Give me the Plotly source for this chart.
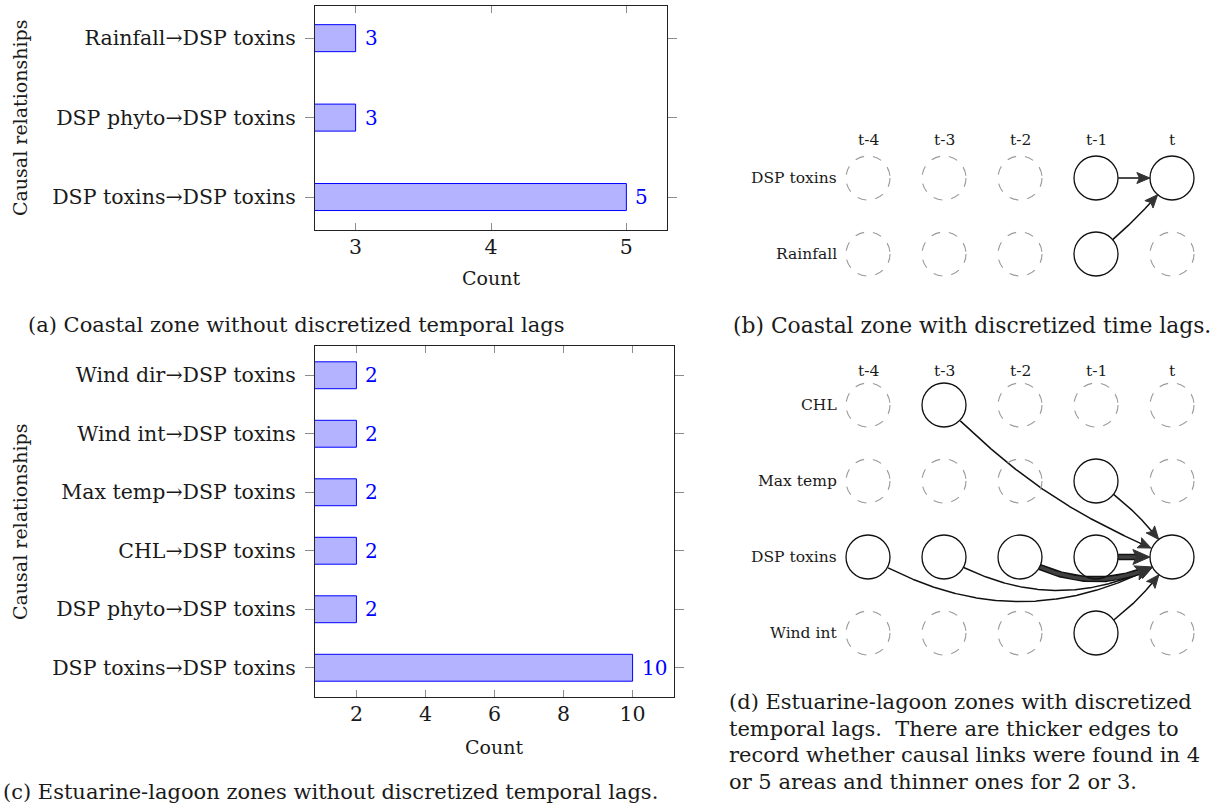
import numpy as np
import plotly.graph_objects as go

W, H = 1220, 807
FONT = "DejaVu Serif"

# ---------------- data ----------------
# (a) coastal zone, bottom -> top
a_labels = ["DSP toxins→DSP toxins", "DSP phyto→DSP toxins", "Rainfall→DSP toxins"]
a_counts = [5, 3, 3]
a_xticks = [3, 4, 5]

# (c) estuarine-lagoon zones, bottom -> top
c_labels = ["DSP toxins→DSP toxins", "DSP phyto→DSP toxins", "CHL→DSP toxins",
            "Max temp→DSP toxins", "Wind int→DSP toxins", "Wind dir→DSP toxins"]
c_counts = [10, 2, 2, 2, 2, 2]
c_xticks = [2, 4, 6, 8, 10]

lags = ["t-4", "t-3", "t-2", "t-1", "t"]

# (b) coastal zone with lags
b_vars = ["Rainfall", "DSP toxins"]          # bottom -> top
b_active = [("DSP toxins", "t-1"), ("DSP toxins", "t"), ("Rainfall", "t-1")]
# (source var, source lag, target var, target lag, strength, bend in degrees)
b_edges = [("DSP toxins", "t-1", "DSP toxins", "t", "thin", 0),
           ("Rainfall", "t-1", "DSP toxins", "t", "thin", -5)]

# (d) estuarine-lagoon zones with lags
d_vars = ["Wind int", "DSP toxins", "Max temp", "CHL"]   # bottom -> top
d_active = [("CHL", "t-3"), ("Max temp", "t-1"),
            ("DSP toxins", "t-4"), ("DSP toxins", "t-3"), ("DSP toxins", "t-2"),
            ("DSP toxins", "t-1"), ("DSP toxins", "t"), ("Wind int", "t-1")]
d_edges = [("CHL", "t-3", "DSP toxins", "t", "thin", -11),
           ("Max temp", "t-1", "DSP toxins", "t", "thin", 9),
           ("DSP toxins", "t-4", "DSP toxins", "t", "thin", -30),
           ("DSP toxins", "t-3", "DSP toxins", "t", "thin", -30),
           ("DSP toxins", "t-2", "DSP toxins", "t", "thick", -30),
           ("DSP toxins", "t-1", "DSP toxins", "t", "thick", 0),
           ("Wind int", "t-1", "DSP toxins", "t", "thin", -10)]

cap_a = "(a) Coastal zone without discretized temporal lags"
cap_b = "(b) Coastal zone with discretized time lags."
cap_c = "(c) Estuarine-lagoon zones without discretized temporal lags."
cap_d = ["(d) Estuarine-lagoon zones with discretized",
         "temporal lags.  There are thicker edges to",
         "record whether causal links were found in 4",
         "or 5 areas and thinner ones for 2 or 3."]

# ---------------- helpers ----------------
def fx(p):
    return p / W

def fy(p):
    return 1 - p / H

fig = go.Figure()

BAR_FILL = "#b3b3ff"
BLUE = "#0000ff"
TICKC = "#8c8c8c"
TXT = "#1a1a1a"

# ---------------- bar charts ----------------
fig.add_trace(go.Bar(x=a_counts, y=a_labels, orientation="h", base=0,
                     width=0.34, marker=dict(color=BAR_FILL, line=dict(color=BLUE, width=1)),
                     xaxis="x", yaxis="y", showlegend=False, hoverinfo="skip"))
fig.add_trace(go.Bar(x=c_counts, y=c_labels, orientation="h", base=0,
                     width=0.46, marker=dict(color=BAR_FILL, line=dict(color=BLUE, width=1)),
                     xaxis="x2", yaxis="y2", showlegend=False, hoverinfo="skip"))

annotations = []
for v, lab in zip(a_counts, a_labels):
    annotations.append(dict(x=v, y=lab, xref="x", yref="y", text=str(v), showarrow=False,
                            xanchor="left", xshift=7, font=dict(family=FONT, size=20, color=BLUE)))
for v, lab in zip(c_counts, c_labels):
    annotations.append(dict(x=v, y=lab, xref="x2", yref="y2", text=str(v), showarrow=False,
                            xanchor="left", xshift=7, font=dict(family=FONT, size=20, color=BLUE)))

axis_common = dict(showgrid=False, zeroline=False, showline=True, linecolor="#222",
                   linewidth=1.2, tickcolor=TICKC, tickwidth=1.2,
                   tickfont=dict(family=FONT, size=20.5, color=TXT))

layout = dict(
    width=W, height=H, margin=dict(l=0, r=0, t=0, b=0),
    paper_bgcolor="white", plot_bgcolor="rgba(0,0,0,0)",
    xaxis=dict(domain=[fx(315), fx(667)], range=[2.7, 5.3], anchor="y",
               tickvals=a_xticks, ticks="inside", ticklen=7, mirror="ticks",
               ticklabelstandoff=-2, **axis_common),
    yaxis=dict(domain=[fy(230), fy(6)], range=[-0.415, 2.405], anchor="x", type="category",
               ticks="outside", ticklen=9, mirror="ticks", ticklabelstandoff=5, **axis_common),
    xaxis2=dict(domain=[fx(315), fx(674)], range=[0.8, 11.2], anchor="y2",
                tickvals=c_xticks, ticks="inside", ticklen=7, mirror="ticks",
                ticklabelstandoff=-2, **axis_common),
    yaxis2=dict(domain=[fy(697), fy(346)], range=[-0.5, 5.5], anchor="x2", type="category",
                ticks="outside", ticklen=9, mirror="ticks", ticklabelstandoff=5, **axis_common),
    xaxis3=dict(domain=[fx(830), fx(1210)], range=[-0.5, 4.5], anchor="y3", visible=False),
    yaxis3=dict(domain=[fy(292), fy(140)], range=[-0.5, 1.5], anchor="x3", visible=False),
    xaxis4=dict(domain=[fx(830), fx(1210)], range=[-0.5, 4.5], anchor="y4", visible=False),
    yaxis4=dict(domain=[fy(671), fy(367)], range=[-0.5, 3.5], anchor="x4", visible=False),
)

# axis titles
for (x, y, txt, ang) in [(491, 278, "Count", 0), (494, 747, "Count", 0),
                         (20, 118, "Causal relationships", -90), (20, 522, "Causal relationships", -90)]:
    annotations.append(dict(x=fx(x), y=fy(y), xref="paper", yref="paper", text=txt, textangle=ang,
                            showarrow=False, xanchor="center", yanchor="middle",
                            font=dict(family=FONT, size=19, color=TXT)))

# captions
CAPF = dict(family=FONT, size=21, color=TXT)
annotations.append(dict(x=fx(296), y=fy(325), xref="paper", yref="paper", text=cap_a, showarrow=False,
                        xanchor="center", yanchor="middle", font=CAPF))
annotations.append(dict(x=fx(330), y=fy(792), xref="paper", yref="paper", text=cap_c, showarrow=False,
                        xanchor="center", yanchor="middle", font=CAPF))
annotations.append(dict(x=fx(972), y=fy(325), xref="paper", yref="paper", text=cap_b, showarrow=False,
                        xanchor="center", yanchor="middle", font=dict(family=FONT, size=21.8, color=TXT)))
for i, line in enumerate(cap_d):
    annotations.append(dict(x=fx(727), y=fy(702 + 26.7 * i), xref="paper", yref="paper", text=line,
                            showarrow=False, xanchor="left", yanchor="middle", font=CAPF))

# ---------------- diagrams ----------------
R = 22 / 76.0
shapes = []

def bezier(p0, p1, p2, p3, n=400):
    t = np.linspace(0, 1, n)[:, None]
    return ((1 - t) ** 3) * p0 + 3 * ((1 - t) ** 2) * t * p1 + 3 * (1 - t) * t ** 2 * p2 + t ** 3 * p3

def draw_diagram(vars_, active, edges, xr, yr, header_dy):
    # nodes
    for vi, var in enumerate(vars_):
        for li, lag in enumerate(lags):
            on = (var, lag) in active
            shapes.append(dict(type="circle", xref=xr, yref=yr,
                               x0=li - R, x1=li + R, y0=vi - R, y1=vi + R,
                               line=dict(color="#111" if on else "#9a9a9a", width=1.3 if on else 1.1,
                                         dash="solid" if on else "dash"),
                               layer="above"))
        annotations.append(dict(x=-0.38, y=vi, xref=xr, yref=yr, text=var, showarrow=False,
                                xanchor="right", yanchor="middle",
                                font=dict(family=FONT, size=15.5, color=TXT)))
    top = len(vars_) - 1
    for li, lag in enumerate(lags):
        annotations.append(dict(x=li, y=top + header_dy, xref=xr, yref=yr, text=lag, showarrow=False,
                                xanchor="center", yanchor="middle",
                                font=dict(family=FONT, size=15.5, color=TXT)))
    # edges
    for sv, sl, tv, tl, strength, bend in edges:
        s = np.array([lags.index(sl), vars_.index(sv)], float)
        e = np.array([lags.index(tl), vars_.index(tv)], float)
        d = e - s
        L = np.hypot(*d)
        phi = np.arctan2(d[1], d[0])
        b = np.radians(bend)
        c1 = s + 0.3915 * L * np.array([np.cos(phi + b), np.sin(phi + b)])
        c2 = e - 0.3915 * L * np.array([np.cos(phi - b), np.sin(phi - b)])
        pts = bezier(s, c1, c2, e)
        idx = np.arange(len(pts))
        ds = np.hypot(*(pts - s).T)
        de = np.hypot(*(pts - e).T)
        i0 = np.argmax(ds >= R)
        i1 = np.where(de >= R)[0][-1]
        tip = pts[i1]
        thick = strength == "thick"
        La = (17 if thick else 13) / 76.0
        Wa = (15 if thick else 11) / 76.0
        dt = np.hypot(*(pts - tip).T)
        ib = np.where((dt >= La) & (idx <= i1))[0][-1]
        u = tip - pts[ib]
        u = u / np.hypot(*u)
        n = np.array([-u[1], u[0]])
        line_end = tip - 0.75 * La * u
        il = np.where((dt >= 0.75 * La) & (idx <= i1))[0][-1]
        seg = np.vstack([pts[i0:il + 1], line_end])
        if thick:
            fig.add_trace(go.Scatter(x=seg[:, 0], y=seg[:, 1], mode="lines", xaxis=xr, yaxis=yr,
                                     line=dict(color="#111", width=6.5), showlegend=False, hoverinfo="skip"))
            fig.add_trace(go.Scatter(x=seg[:, 0], y=seg[:, 1], mode="lines", xaxis=xr, yaxis=yr,
                                     line=dict(color="#404040", width=3.5), showlegend=False, hoverinfo="skip"))
        else:
            fig.add_trace(go.Scatter(x=seg[:, 0], y=seg[:, 1], mode="lines", xaxis=xr, yaxis=yr,
                                     line=dict(color="#111", width=1.5), showlegend=False, hoverinfo="skip"))
        back = tip - La * u
        tri = np.array([tip, back + Wa / 2 * n, tip - 0.8 * La * u, back - Wa / 2 * n, tip])
        fig.add_trace(go.Scatter(x=tri[:, 0], y=tri[:, 1], mode="lines", fill="toself",
                                 fillcolor="#333333", line=dict(color="#333333", width=1),
                                 xaxis=xr, yaxis=yr, showlegend=False, hoverinfo="skip"))

draw_diagram(b_vars, b_active, b_edges, "x3", "y3", 0.5)
draw_diagram(d_vars, d_active, d_edges, "x4", "y4", 0.45)

layout["annotations"] = annotations
layout["shapes"] = shapes
fig.update_layout(**layout)
fig.write_html("out.html", config={"displayModeBar": False},
               post_script="document.body.style.margin='0px';")
